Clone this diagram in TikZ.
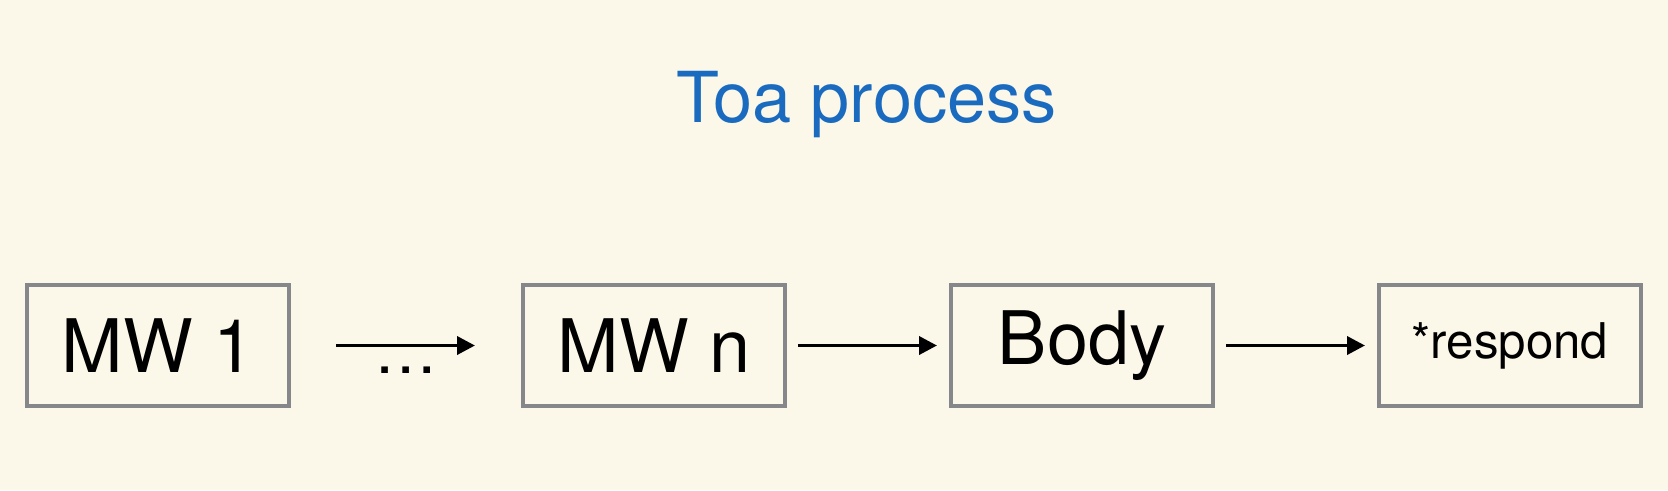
\documentclass[tikz,border=0pt]{standalone}
\usepackage{fontspec}
\setmainfont{TeX Gyre Heros}
\usepackage{xcolor}
\usetikzlibrary{arrows.meta, positioning}

\definecolor{paper}{HTML}{FBF8E9}
\definecolor{boxgrey}{HTML}{85878A}
\definecolor{titleblue}{HTML}{1A6BBF}

\tikzset{
  stage/.style={draw=boxgrey, line width=0.08cm, minimum width=5.24cm,
    minimum height=2.42cm, inner sep=0pt, font=\fontsize{42}{46}\selectfont},
  flow/.style={line width=0.075cm, -{Triangle[length=0.36cm, width=0.36cm]},
    shorten <=0.22cm, shorten >=0.24cm}
}

\begin{document}
\begin{tikzpicture}
          % background and page size
          \fill[paper] (0,0) rectangle (33.36,-9.8);
          \useasboundingbox (0,0) rectangle (33.36,-9.8);

          % title
          \node[anchor=base, text=titleblue, font=\fontsize{40}{44}\selectfont] (title) at (17.33,-2.44) {Toa process};

          % the chain of middlewares, then body and respond
          \node[stage] (mw1) at (3.16,-6.91) {MW 1};
          \node[stage, right=4.6cm of mw1] (mwn) {MW n};
          \node[stage, right=3.24cm of mwn] (body) {Body};
          \node[stage, right=3.24cm of body, font=\fontsize{28}{32}\selectfont] (respond) {*respond};

          % arrows between the stages
          \draw[flow, shorten <=0.9cm, shorten >=0.92cm] (mw1) -- node[below=0.27cm, font=\fontsize{36}{40}\selectfont] (dots) {\ldots} (mwn);
          \draw[flow] (mwn) -- (body);
          \draw[flow] (body) -- (respond);
      \end{tikzpicture}
\end{document}
